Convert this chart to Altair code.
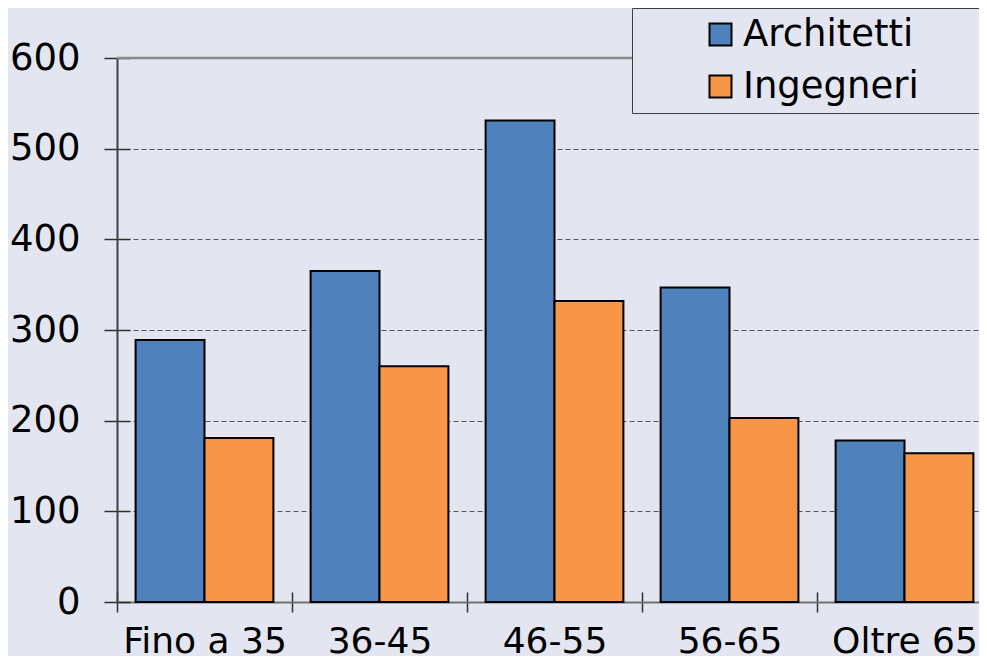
import altair as alt
import pandas as pd

categories = ["Fino a 35", "36-45", "46-55", "56-65", "Oltre 65"]
groups = ["Architetti", "Ingegneri"]
architetti = [289, 365, 531, 347, 178]
ingegneri = [181, 260, 332, 203, 164]
y_ticks = [0, 100, 200, 300, 400, 500, 600]
colors = ["#4F81BD", "#F79646"]

rows = []
for c, a, i in zip(categories, architetti, ingegneri):
    rows.append({"Fascia": c, "Gruppo": "Architetti", "Valore": a})
    rows.append({"Fascia": c, "Gruppo": "Ingegneri", "Valore": i})
df = pd.DataFrame(rows)

FONT = "DejaVu Sans"
BG = "#E3E6F1"
PAD_CHARS = "\u2800" * 8

x_scale = alt.Scale(paddingInner=0, paddingOuter=0)
y_scale = alt.Scale(domain=[0, 600], nice=False)

bars = alt.Chart(df).mark_bar(stroke="black", strokeWidth=2).encode(
    x=alt.X(
        "Fascia:N",
        sort=categories,
        scale=x_scale,
        axis=alt.Axis(
            title=None,
            orient="bottom",
            labelAngle=0,
            tickBand="extent",
            labelFontSize=36,
            labelColor="black",
            labelFont=FONT,
            labelPadding=12,
            tickSize=10,
            tickColor="#303030",
            tickWidth=1.5,
            domainColor="#707070",
            domainWidth=2,
            grid=False,
        ),
    ),
    xOffset=alt.XOffset("Gruppo:N", sort=groups,
                        scale=alt.Scale(paddingInner=0, paddingOuter=0.27)),
    y=alt.Y(
        "Valore:Q",
        scale=y_scale,
        axis=alt.Axis(
            title=None,
            orient="left",
            values=y_ticks,
            labelFontSize=37,
            labelColor="black",
            labelFont=FONT,
            labelPadding=24,
            tickSize=13,
            tickColor="#303030",
            tickWidth=1.5,
            domainColor="#404040",
            domainWidth=2,
            grid=True,
            gridColor="#555555",
            gridDash=[5, 3],
            gridWidth=1,
        ),
    ),
    color=alt.Color(
        "Gruppo:N",
        sort=groups,
        scale=alt.Scale(domain=groups, range=colors),
        legend=alt.Legend(
            title="\u00a0",
            titleOrient="left",
            titleFontSize=10,
            titlePadding=62,
            orient="none",
            legendX=515,
            legendY=-50,
            padding=8,
            rowPadding=14,
            fillColor=BG,
            strokeColor="#404040",
            labelFontSize=37,
            labelFont=FONT,
            labelColor="black",
            labelOffset=4,
            labelLimit=0,
            labelExpr="datum.label + '" + PAD_CHARS + "'",
            symbolType="square",
            symbolSize=484,
            symbolStrokeColor="black",
            symbolStrokeWidth=2,
            symbolOpacity=1,
        ),
    ),
)

# inner half of the crossing ticks (same scales as the bars)
inner_ticks = alt.Chart(df).mark_bar(opacity=0).encode(
    x=alt.X(
        "Fascia:N",
        sort=categories,
        scale=x_scale,
        axis=alt.Axis(
            title=None, orient="bottom", labels=False, domain=False, grid=False,
            tickBand="extent", tickSize=10, offset=-10,
            tickColor="#303030", tickWidth=1.5,
        ),
    ),
    xOffset=alt.XOffset("Gruppo:N", sort=groups),
    y=alt.Y(
        "Valore:Q",
        scale=y_scale,
        axis=alt.Axis(
            title=None, orient="left", values=y_ticks, labels=False,
            domain=False, grid=False, tickSize=13, offset=-13,
            tickColor="#303030", tickWidth=1.5,
        ),
    ),
)

top_line = alt.Chart(pd.DataFrame({"y": [600]})).mark_rule(
    color="#8A8A8A", strokeWidth=2.5
).encode(y=alt.Y("y:Q", scale=y_scale, axis=None))

chart = alt.layer(top_line, inner_ticks, bars).resolve_axis(
    x="independent", y="independent"
).properties(
    width=875,
    height=544,
    background=BG,
    padding={"left": 109, "top": 50, "right": -13, "bottom": 54},
    autosize=alt.AutoSizeParams(type="none"),
).configure_view(stroke=None).configure(font=FONT)

chart.save("out.html", embed_options={"renderer": "svg", "actions": False})
